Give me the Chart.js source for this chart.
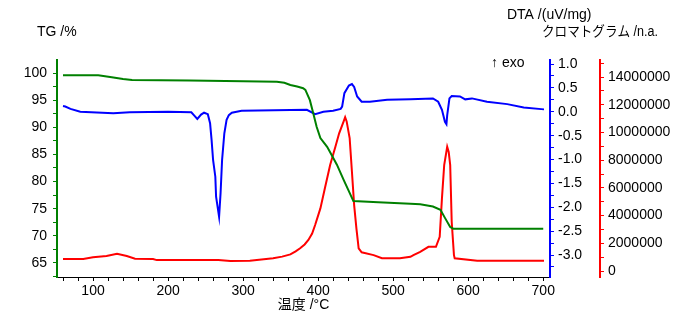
<!DOCTYPE html>
<html>
<head>
<meta charset="utf-8">
<script src="https://cdn.jsdelivr.net/npm/chart.js@4/dist/chart.umd.min.js"></script>
<style>
    html, body { margin: 0; padding: 0; background: #fff; }
    #wrap { width: 694px; height: 327px; }
</style>
</head>
<body>
<div id="wrap"><canvas id="thermo"></canvas></div>
<script>
// TG curve (temperature /°C, mass /%)
const tgTemp = [60, 107, 125, 140, 152, 229, 300, 345, 355, 363, 372, 380, 383, 389, 394, 398, 403, 412, 418, 425, 434, 440, 447, 480, 523, 536, 553, 563, 569, 576, 580, 700];
const tgMass = [99.6, 99.6, 99.2, 98.9, 98.7, 98.6, 98.5, 98.4, 98.2, 97.8, 97.5, 97.2, 96.9, 95.0, 92.3, 90.1, 88.0, 86.4, 84.9, 83.1, 80.3, 78.5, 76.4, 76.2, 75.9, 75.8, 75.4, 74.8, 73.3, 71.6, 71.3, 71.3];

// DTA curve (temperature /°C, uV/mg)
const dtaTemp = [60, 63, 70, 83, 127, 149, 200, 231, 235, 239, 244, 248, 253, 256, 258, 260, 263, 264, 268, 270, 272, 275, 278, 281, 285, 298, 385, 396, 407, 420, 430, 432, 435, 441, 445, 448, 452, 458, 469, 492, 523, 553, 560, 565, 569, 571, 572, 575, 578, 589, 596, 605, 625, 652, 674, 701];
const dtaValue = [0.12, 0.11, 0.06, 0.0, -0.03, -0.01, 0.0, -0.01, -0.08, -0.15, -0.06, -0.02, -0.05, -0.24, -0.59, -1.01, -1.36, -1.78, -2.2, -1.7, -1.01, -0.45, -0.17, -0.07, -0.02, 0.02, 0.04, -0.05, 0.0, 0.02, 0.06, 0.11, 0.39, 0.55, 0.58, 0.52, 0.32, 0.21, 0.21, 0.25, 0.26, 0.28, 0.21, 0.04, -0.21, -0.26, -0.07, 0.28, 0.33, 0.32, 0.26, 0.28, 0.21, 0.16, 0.09, 0.05];

// chromatogram (temperature /°C, intensity)
const chromTemp = [60, 87, 100, 118, 132, 145, 156, 180, 185, 267, 283, 309, 340, 352, 363, 370, 376, 382, 387, 392, 396, 403, 409, 416, 423, 428, 434, 436, 438, 442, 445, 448, 451, 454, 458, 474, 485, 509, 523, 527, 536, 547, 557, 562, 565, 568, 572, 574, 576, 578, 581, 582, 612, 701];
const chromValue = [870000, 870000, 990000, 1080000, 1250000, 1080000, 890000, 870000, 790000, 790000, 720000, 740000, 920000, 1040000, 1200000, 1420000, 1640000, 1920000, 2240000, 2700000, 3320000, 4520000, 5970000, 7650000, 8970000, 9940000, 10800000, 11100000, 10800000, 9600000, 7200000, 4760000, 3080000, 1640000, 1350000, 1150000, 920000, 920000, 1030000, 1150000, 1390000, 1750000, 1750000, 2470000, 5240000, 7650000, 8970000, 8600000, 7650000, 3560000, 1150000, 920000, 740000, 740000];

// tick labels
const tempLabels = [100, 200, 300, 400, 500, 600, 700];
const tgLabels = [65, 70, 75, 80, 85, 90, 95, 100];
const dtaLabels = [-3.0, -2.5, -2.0, -1.5, -1.0, -0.5, 0.0, 0.5, 1.0];
const chromLabels = [0, 2000000, 4000000, 6000000, 8000000, 10000000, 12000000, 14000000];

const labelFont = { family: '"Liberation Sans", Arial, sans-serif', size: 14 };


function toPoints(xs, ys){
    return xs.map((x, i) => ({ x: x, y: ys[i] }));
}

// major + minor tick positions between lo and hi
function tickList(lo, hi, step){
    let list = [];
    let n = Math.round((hi - lo) / step);
    for(let i = 0; i <= n; i++){
        list.push(+(lo + i * step).toFixed(6));
    }
    return list;
}

function isLabel(labels, v){
    return labels.some(l => Math.abs(l - v) < 1e-6);
}

function axisTicks(list){
    return (axis) => { axis.ticks = list.map(v => ({ value: v })); };
}


// horizontal axis titles, drawn above the axes
const titlesPlugin = {
    id: 'titles',
    afterDraw(chart){
        const ctx = chart.ctx;
        ctx.save();
        ctx.fillStyle = '#000';
        ctx.textBaseline = 'middle';
        ctx.textAlign = 'left';
        ctx.font = '14px "Liberation Sans", Arial, "Noto Sans CJK JP", sans-serif';
        ctx.fillText('TG /%', 37, 32);
        ctx.fillText('DTA /(uV/mg)', 507, 15.5);
        ctx.fillText('クロマトグラム /n.a.', 542, 32, 116);
        ctx.fillText('↑ exo', 491, 63);
        ctx.textAlign = 'center';
        ctx.fillText('温度 /°C', (chart.chartArea.left + chart.chartArea.right) / 2, 305);
        ctx.restore();
    }
};


const ctx = document.getElementById('thermo');

new Chart(ctx, {
    type: 'line',
    data: {
        datasets: [
            {
                label: 'TG',
                data: toPoints(tgTemp, tgMass),
                yAxisID: 'yTG',
                borderColor: 'rgb(0, 128, 0)',
                borderWidth: 2,
                pointRadius: 0,
                tension: 0
            },
            {
                label: 'DTA',
                data: toPoints(dtaTemp, dtaValue),
                yAxisID: 'yDTA',
                borderColor: 'rgb(0, 0, 255)',
                borderWidth: 2,
                pointRadius: 0,
                tension: 0
            },
            {
                label: 'クロマトグラム',
                data: toPoints(chromTemp, chromValue),
                yAxisID: 'yChrom',
                borderColor: 'rgb(255, 0, 0)',
                borderWidth: 2,
                pointRadius: 0,
                tension: 0
            }
        ]
    },
    options: {
        responsive: true,
        maintainAspectRatio: false,
        animation: false,
        layout: { padding: { top: 60, left: 0, right: 0, bottom: 0 } },
        plugins: {
            legend: { display: false },
            tooltip: { enabled: false }
        },
        scales: {
            x: {
                type: 'linear',
                position: 'bottom',
                min: 52,
                max: 709,
                afterBuildTicks: axisTicks(tickList(60, 700, 20)),
                afterFit: (s) => { s.height = 50; },
                border: { color: '#000', width: 1 },
                grid: { drawOnChartArea: false, tickLength: 4, tickColor: '#000' },
                ticks: {
                    autoSkip: false,
                    maxRotation: 0,
                    padding: 2,
                    color: '#000',
                    font: labelFont,
                    callback: (v) => isLabel(tempLabels, v) ? String(v) : ''
                }
            },
            yTG: {
                type: 'linear',
                position: 'left',
                min: 62.4,
                max: 102.4,
                afterBuildTicks: axisTicks(tickList(62.5, 100, 2.5)),
                afterFit: (s) => { s.width = 57; },
                border: { color: 'rgb(0, 128, 0)', width: 2 },
                grid: { drawOnChartArea: false, tickLength: 4, tickColor: 'rgb(0, 128, 0)' },
                ticks: {
                    autoSkip: false,
                    padding: 6,
                    color: '#000',
                    font: labelFont,
                    callback: (v) => isLabel(tgLabels, v) ? String(v) : ''
                }
            },
            yDTA: {
                type: 'linear',
                position: 'right',
                min: -3.46,
                max: 1.084,
                afterBuildTicks: axisTicks(tickList(-3.25, 1.0, 0.25)),
                afterFit: (s) => { s.width = 50; },
                border: { color: 'rgb(0, 0, 255)', width: 2 },
                grid: { drawOnChartArea: false, tickLength: 4, tickColor: 'rgb(0, 0, 255)' },
                ticks: {
                    autoSkip: false,
                    padding: 4,
                    color: '#000',
                    font: labelFont,
                    callback: (v) => isLabel(dtaLabels, v) ? v.toFixed(1) : ''
                }
            },
            yChrom: {
                type: 'linear',
                position: 'right',
                min: -430000,
                max: 15230000,
                afterBuildTicks: axisTicks(tickList(0, 15000000, 1000000)),
                afterFit: (s) => { s.width = 94; },
                border: { color: 'rgb(255, 0, 0)', width: 2 },
                grid: { drawOnChartArea: false, tickLength: 4, tickColor: 'rgb(255, 0, 0)' },
                ticks: {
                    autoSkip: false,
                    padding: 4,
                    color: '#000',
                    font: labelFont,
                    callback: (v) => isLabel(chromLabels, v) ? String(v) : ''
                }
            }
        }
    },
    plugins: [titlesPlugin]
});
</script>
</body>
</html>
